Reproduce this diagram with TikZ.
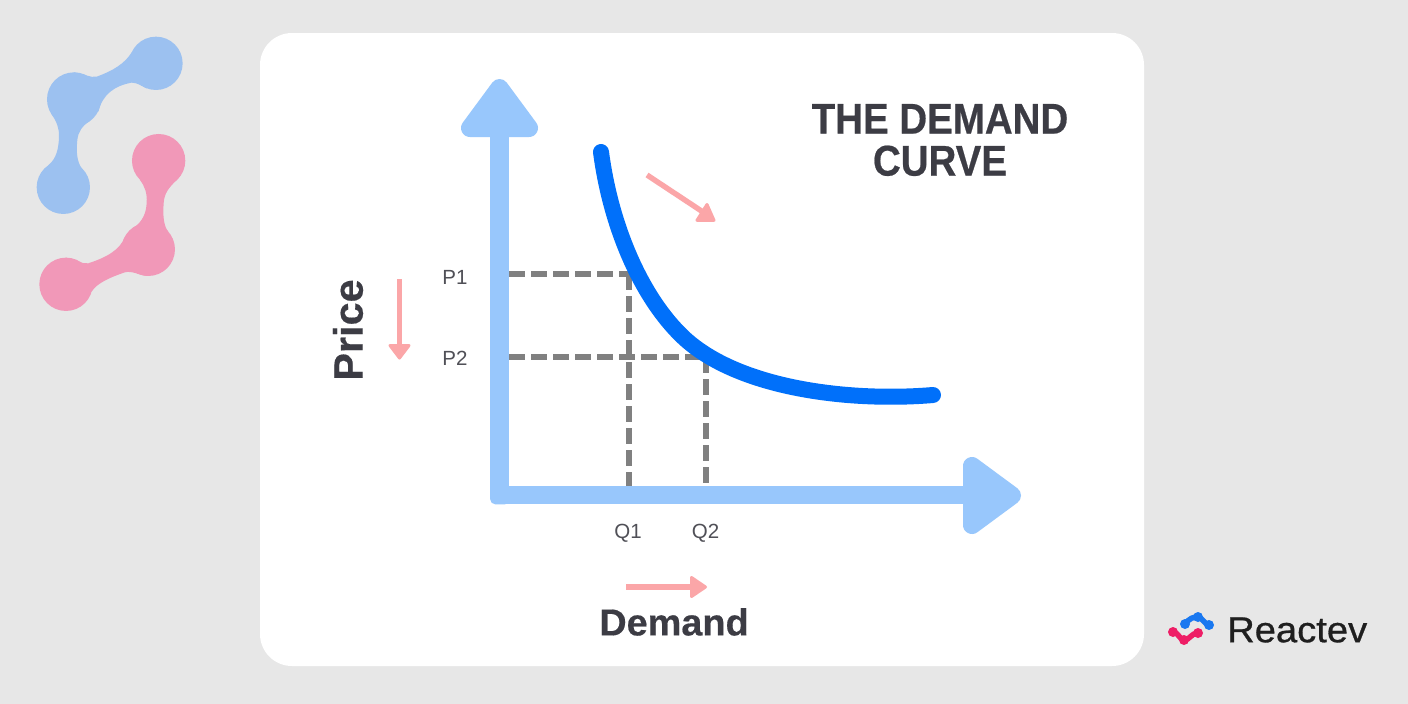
\documentclass[tikz,border=0pt]{standalone}
\usepackage{fontspec}
\setmainfont{Liberation Sans}
\newfontfamily\titlefont[FakeStretch=0.895,FakeBold=0.5]{Liberation Sans Bold}
\newfontfamily\labelfont[FakeStretch=1.01,FakeBold=0.4]{Liberation Sans Bold}
\newfontfamily\brandfont[FakeStretch=1.06,FakeBold=0.8]{Liberation Sans}
\definecolor{bgc}{HTML}{E7E7E7}
\definecolor{axisc}{HTML}{98C7FC}
\definecolor{curvec}{HTML}{0070FA}
\definecolor{dashc}{HTML}{808080}
\definecolor{pinka}{HTML}{FBA6A8}
\definecolor{inkc}{HTML}{3C3C44}
\definecolor{blobb}{HTML}{9CC1F0}
\definecolor{blobp}{HTML}{F198B8}
\definecolor{logob}{HTML}{1A78F0}
\definecolor{logor}{HTML}{EE1E66}
\tikzset{
  axisline/.style={draw=axisc,line width=18.5pt,line join=round},
  axishead/.style={fill=axisc,draw=axisc,line width=18pt,line join=round},
  dashline/.style={draw=dashc,line width=5.2pt,dash pattern=on 15.5pt off 6.5pt},
  demandcurve/.style={draw=curvec,line width=16pt,line cap=round},
  pinkline/.style={draw=pinka,line width=5.4pt},
  pinkhead/.style={fill=pinka,draw=pinka,line width=3pt,line join=round},
  ticklabel/.style={font=\fontsize{20.5}{22}\selectfont,text=inkc!90,inner sep=0pt},
  titlelabel/.style={font=\fontsize{43}{42}\selectfont\titlefont,text=inkc,inner sep=0pt,align=center},
  axislabel/.style={font=\fontsize{37.5}{40}\selectfont\labelfont,text=inkc,inner sep=0pt},
}
\begin{document}
\begin{tikzpicture}[x=1pt,y=-1pt]
\useasboundingbox (0,0) rectangle (1408,704);
\fill[bgc] (0,0) rectangle (1408,704);
\fill[white,rounded corners=32pt] (260,33) rectangle (1144,666);
% blobs, coordinates from a 3x crop
\begin{scope}[x=0.3333pt,y=-0.3333pt,yshift=-20pt]
  \fill[blobb] (468,130) circle[radius=80] (222,238) circle[radius=81] (190,502) circle[radius=80];
  \fill[blobb] (395,97) .. controls (375,130) and (340,152) .. (290,170) .. controls (270,174) and (255,162) .. (222,157)
    -- (222,238) -- (295,275) .. controls (308,222) and (345,197) .. (395,188) .. controls (410,188) and (425,197) .. (440,205) -- (468,130) -- cycle;
  \fill[blobb] (155,283) .. controls (170,305) and (178,325) .. (177,350) .. controls (176,385) and (170,415) .. (145,436)
    -- (190,502) -- (245,445) .. controls (232,425) and (228,400) .. (232,360) .. controls (235,335) and (245,320) .. (270,302) -- (222,238) -- cycle;
  \fill[blobp] (476,422) circle[radius=80] (445,688) circle[radius=80] (198,793) circle[radius=80];
  \fill[blobp] (420,480) .. controls (435,500) and (442,520) .. (440,550) .. controls (438,590) and (420,612) .. (388,634)
    -- (445,688) -- (505,635) .. controls (492,620) and (488,590) .. (491,550) .. controls (493,520) and (505,505) .. (530,480) -- (476,422) -- cycle;
  \fill[blobp] (375,650) .. controls (360,690) and (320,712) .. (265,730) .. controls (245,732) and (225,720) .. (198,713)
    -- (198,793) -- (275,815) .. controls (290,790) and (330,772) .. (375,757) .. controls (395,752) and (420,765) .. (440,768) -- (445,688) -- cycle;
\end{scope}
% axes
\coordinate (top) at (499.5,130);
\coordinate (origin) at (499.5,495);
\coordinate (right) at (970,495);
\draw[axisline] (top) -- (origin) -- (right);
\fill[axisc,rounded corners=5pt] (490.2,486) rectangle (510,504.3);
\fill[axishead] (499.5,88) -- (529,128) -- (470,128) -- cycle;
\fill[axishead] (972,466) -- (1012,495.5) -- (972,525) -- cycle;
% dashed guides
\coordinate (p1) at (509,274); \coordinate (p2) at (509,357);
\coordinate (c1) at (629,274); \coordinate (c2) at (706,357);
\coordinate (q1) at (629,486); \coordinate (q2) at (706,486);
\draw[dashline] (p1) -- (c1);
\draw[dashline] (p2) -- (c2);
\draw[dashline] (c1) -- (q1);
\draw[dashline] (c2) -- (q2);
% curve
\coordinate (cs) at (601,152); \coordinate (cm) at (683,337); \coordinate (ce) at (933,395);
\draw[demandcurve] (cs) .. controls (611,228) and (642,298) .. (cm) .. controls (738,389) and (850,402) .. (ce);
% pink arrows
\coordinate (a1) at (647,175); \coordinate (a1e) at (703,212);
\draw[pinkline] (a1) -- (a1e);
\fill[pinkhead] (707,204.5) -- (714,220.3) -- (697,220.3) -- cycle;
\coordinate (a2) at (399.5,279); \coordinate (a2e) at (399.5,348);
\draw[pinkline] (a2) -- (a2e);
\fill[pinkhead] (390,345.5) -- (409,345.5) -- (399.5,358) -- cycle;
\coordinate (a3) at (626,587); \coordinate (a3e) at (695,587);
\draw[pinkline] (a3) -- (a3e);
\fill[pinkhead] (691.5,577.5) -- (705.5,587) -- (691.5,596.5) -- cycle;
% labels
\node[ticklabel] (lp1) at (455,277) {P1};
\node[ticklabel] (lp2) at (455,358) {P2};
\node[ticklabel] (lq1) at (628,533) {Q1};
\node[ticklabel] (lq2) at (705.5,533) {Q2};
\node[titlelabel] (title) at (940,140) {THE DEMAND\\CURVE};
\node[font=\fontsize{41}{43}\selectfont\labelfont,text=inkc,inner sep=0pt,rotate=90] (price) at (348,330) {Price};
\node[axislabel] (demand) at (674,622) {Demand};
% logo
\draw[logob,line width=5.5pt,line cap=round,line join=round] (1185,624) .. controls (1190,618) and (1193,617) .. (1198,617) .. controls (1203,618) and (1204,624) .. (1209,625);
\fill[logob] (1185,624) circle[radius=5] (1198,617) circle[radius=5] (1209,625) circle[radius=5];
\draw[logor,line width=5.5pt,line cap=round,line join=round] (1173,632) .. controls (1178,632) and (1179,639) .. (1184,640) .. controls (1190,640) and (1191,633) .. (1198,633);
\fill[logor] (1173,632) circle[radius=5] (1184,640) circle[radius=5] (1198,633) circle[radius=5];
\node[font=\fontsize{36}{38}\selectfont\brandfont,text=black!88,inner sep=0pt,anchor=west] (brand) at (1227,630) {Reactev};
\end{tikzpicture}
\end{document}
